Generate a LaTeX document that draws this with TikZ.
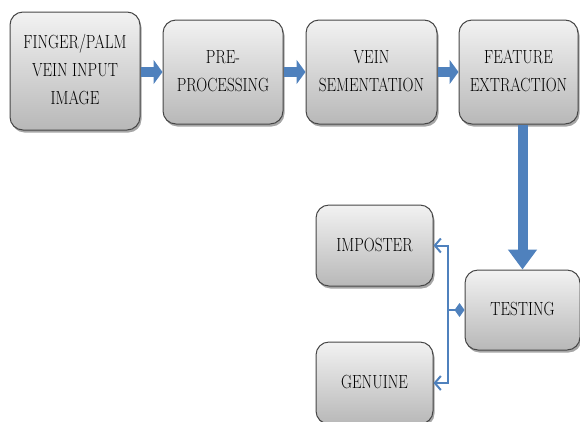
\documentclass[tikz,border=0pt]{standalone}
\usepackage{graphicx}
\usetikzlibrary{arrows.meta,shadows,calc}
\definecolor{boxtop}{RGB}{242,242,242}
\definecolor{boxbot}{RGB}{184,184,184}
\definecolor{boxline}{RGB}{70,70,70}
\definecolor{flowblue}{RGB}{79,129,189}
\newcommand{\bt}[1]{\scalebox{0.8}[1]{\begin{tabular}{@{}c@{}}#1\end{tabular}}}
\tikzset{
  box/.style={rectangle, rounded corners=13pt, draw=boxline, line width=1pt,
    top color=boxtop, bottom color=boxbot, align=center,
    font=\fontsize{19}{28}\selectfont, inner sep=0pt,
    drop shadow={shadow xshift=1.5pt, shadow yshift=-2.5pt, opacity=0.35, fill=black}},
  bigarrow/.style={draw=flowblue, line width=10pt,
    -{Triangle[length=9pt 0, width=24pt 0]}},
  vbigarrow/.style={draw=flowblue, line width=10pt,
    -{Triangle[length=20pt 0, width=28pt 0]}},
  conn/.style={draw=flowblue, line width=2pt},
}
\begin{document}
\begin{tikzpicture}[x=1pt,y=-1pt]
\useasboundingbox (0,0) rectangle (580,421);
\clip (0,0) rectangle (580,421);
\node[box, minimum width=130pt, minimum height=118pt] (b1) at (75,71) {\bt{FINGER/PALM\\VEIN INPUT\\IMAGE}};
\node[box, minimum width=120pt, minimum height=104pt] (b2) at (223,72) {\bt{PRE-\\PROCESSING}};
\node[box, minimum width=131pt, minimum height=104pt] (b3) at (371.5,72) {\bt{VEIN\\SEMENTATION}};
\node[box, minimum width=119pt, minimum height=104pt] (b4) at (518.5,72) {\bt{FEATURE\\EXTRACTION}};
\node[box, minimum width=117pt, minimum height=81pt] (imp) at (374.5,245.5) {\bt{IMPOSTER}};
\node[box, minimum width=115pt, minimum height=80pt] (t) at (522.5,310) {\bt{TESTING}};
\node[box, minimum width=117pt, minimum height=82pt] (gen) at (374.5,383) {\bt{GENUINE}};

\draw[bigarrow] (b1.east |- b2.west) -- (b2.west);
\draw[bigarrow] (b2.east) -- (b3.west);
\draw[bigarrow] (b3.east) -- (b4.west);
\draw[vbigarrow] (b4.south -| t.north) -- (t.north);

\coordinate (j) at ($(t.west)+(-17,0)$);
\draw[conn, {Diamond[length=10pt 0, width=14pt 0]}-] (t.west) -- (j);
\draw[conn, -{Straight Barb[length=6pt 0, width=14pt 0]}] (j) |- (imp.east);
\draw[conn, -{Straight Barb[length=6pt 0, width=14pt 0]}] (j) |- (gen.east);
\end{tikzpicture}
\end{document}
